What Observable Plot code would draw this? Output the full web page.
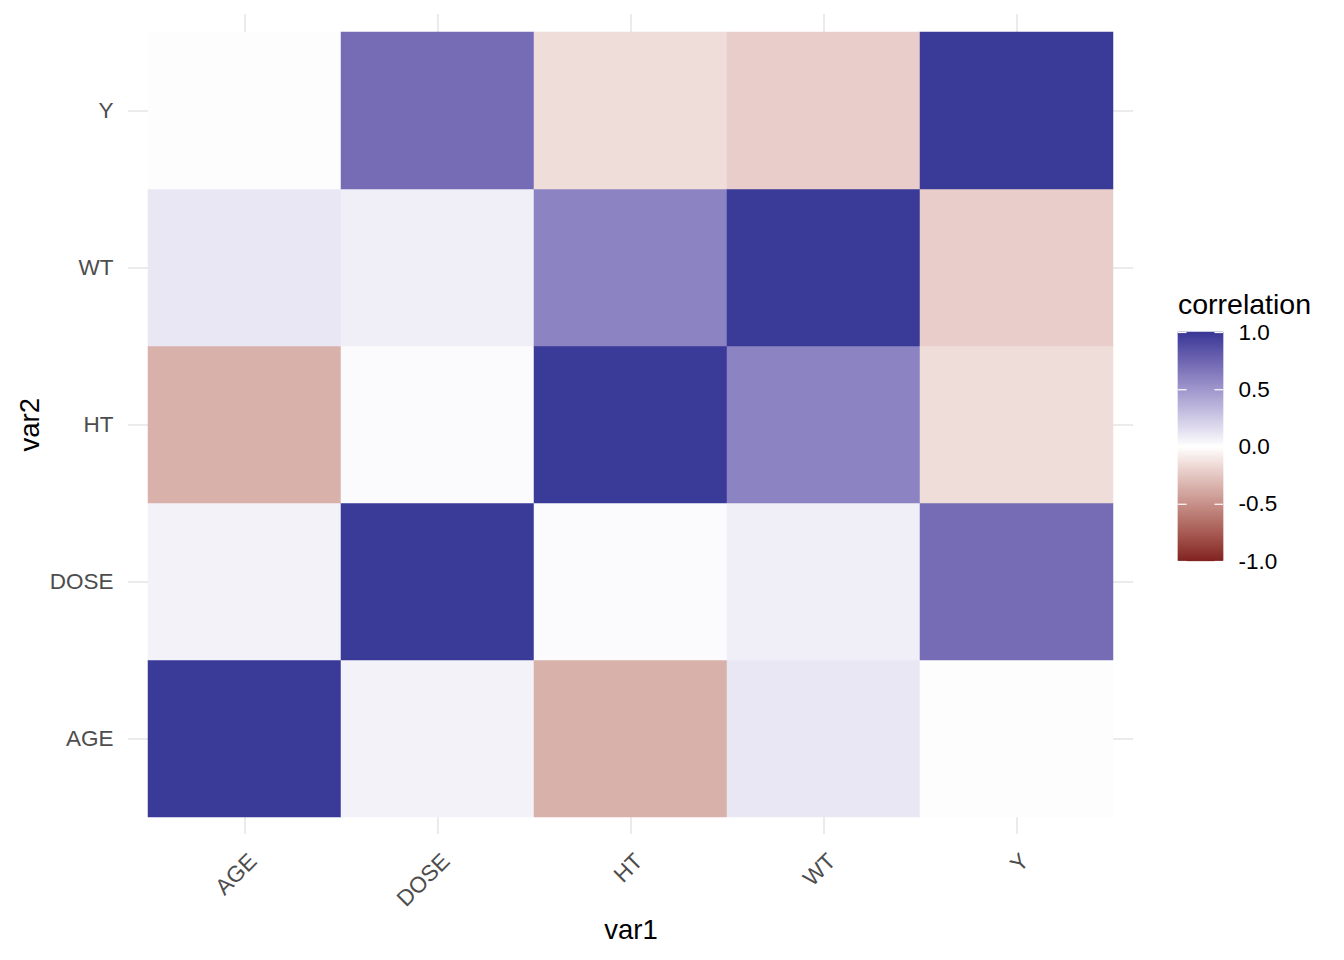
<!DOCTYPE html>
<html>
<head>
<meta charset="utf-8">
<script src="https://cdn.jsdelivr.net/npm/d3@7"></script>
<script src="https://cdn.jsdelivr.net/npm/@observablehq/plot@0.6"></script>
<style>
  html, body { margin: 0; padding: 0; background: #fff; }
  #wrap { position: relative; width: 1344px; height: 960px; font-family: "Liberation Sans", Arial, sans-serif; }
  #main, #legend { position: absolute; }
  #main { left: 0; top: 0; }
  #legend { left: 1160px; top: 280px; }
  #ltitle { position: absolute; left: 1178px; top: 290px; font-size: 28.5px; line-height: 28px; color: #000; white-space: nowrap; }
</style>
</head>
<body>
<div id="wrap">
  <div id="main"></div>
  <div id="ltitle">correlation</div>
  <div id="legend"></div>
</div>
<script>
const vars = ["AGE", "DOSE", "HT", "WT", "Y"];
// correlation values, rows = var1, columns = var2 (order of vars)
const AGE  = [1.00, 0.06, -0.35, 0.11, 0.01];
const DOSE = [0.06, 1.00, 0.02, 0.08, 0.72];
const HT   = [-0.35, 0.02, 1.00, 0.60, -0.15];
const WT   = [0.11, 0.08, 0.60, 1.00, -0.22];
const Y    = [0.01, 0.72, -0.15, -0.22, 1.00];
const legendTicks = [-1, -0.5, 0, 0.5, 1];
const legendLabels = ["-1.0", "-0.5", "0.0", "0.5", "1.0"];

const rows = {AGE, DOSE, HT, WT, Y};
const data = [];
for (const v1 of vars) vars.forEach((v2, j) => data.push({var1: v1, var2: v2, value: rows[v1][j]}));

const colorScale = {type: "linear", domain: [-1, 0, 1], range: ["#832424", "#ffffff", "#3A3A98"], interpolate: "lab"};
const font = '"Liberation Sans", Arial, sans-serif';

const main = Plot.plot({
  width: 1344, height: 960,
  marginLeft: 128, marginRight: 211, marginTop: 14, marginBottom: 126,
  style: {fontFamily: font, background: "#fff"},
  x: {domain: vars, padding: 0, inset: 19.3, label: null, axis: null},
  y: {domain: vars.slice().reverse(), padding: 0, inset: 15.5, label: null, axis: null},
  color: colorScale,
  marks: [
    Plot.gridX({stroke: "#EBEBEB", strokeOpacity: 1, strokeWidth: 2}),
    Plot.gridY({stroke: "#EBEBEB", strokeOpacity: 1, strokeWidth: 2}),
    Plot.cell(data, {x: "var1", y: "var2", fill: "value", stroke: "value", strokeWidth: 0.5, inset: 0}),
    Plot.axisY({tickSize: 0, tickPadding: 15, fontSize: 22.5, fill: "#4D4D4D", label: null}),
    Plot.text(vars, {x: d => d, frameAnchor: "bottom", dx: 8, dy: 23, rotate: -45, textAnchor: "end", lineAnchor: "middle", fontSize: 22.5, fill: "#4D4D4D"}),
    Plot.text(["var1"], {frameAnchor: "bottom", dy: 96, lineAnchor: "middle", fontSize: 27.5, fill: "#000"}),
    Plot.text(["var2"], {frameAnchor: "left", dx: -98, dy: 27, rotate: -90, lineAnchor: "middle", fontSize: 27.5, fill: "#000"})
  ]
});
document.getElementById("main").appendChild(main);

const n = 460;
const steps = d3.range(0, n).map(i => -1 + i * 2 / n);
const legend = Plot.plot({
  width: 184, height: 300,
  marginLeft: 18, marginRight: 121, marginTop: 52, marginBottom: 19,
  style: {fontFamily: font, background: "transparent", overflow: "visible"},
  x: {domain: [0, 1], axis: null},
  y: {domain: [-1, 1], axis: null},
  color: colorScale,
  marks: [
    Plot.rect(steps, {x1: 0, x2: 1, y1: d => d, y2: d => Math.min(1, d + 4 / n), fill: d => d + 1 / n, stroke: d => d + 1 / n, strokeWidth: 0.3}),
    Plot.ruleY(legendTicks, {y: d => d, x1: 0, x2: 0.19, stroke: "white", strokeWidth: 1.2}),
    Plot.ruleY(legendTicks, {y: d => d, x1: 0.81, x2: 1, stroke: "white", strokeWidth: 1.2}),
    Plot.text(legendTicks, {x: 1, y: d => d, text: (d, i) => legendLabels[i], dx: 15, textAnchor: "start", fontSize: 22.5, fill: "#000"})
  ]
});
document.getElementById("legend").appendChild(legend);
</script>
</body>
</html>
